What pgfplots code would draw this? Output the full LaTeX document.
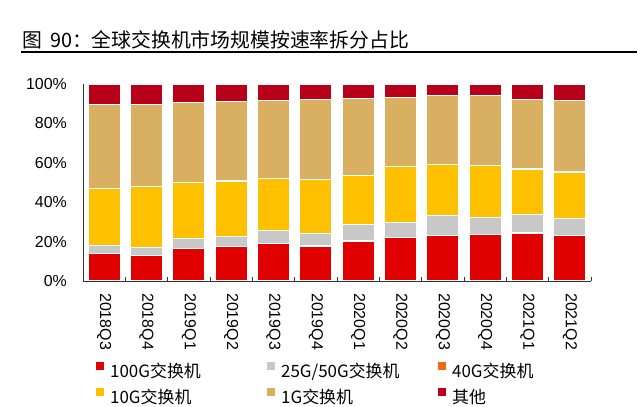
\documentclass[border=0pt]{standalone}
\usepackage{pgfplots}
\usepackage{pgfplotstable}
\pgfplotsset{compat=1.18}
\usepackage{fontspec}
\setmainfont{Liberation Sans}
\newfontfamily\cjk{Noto Sans CJK SC}
\definecolor{cA}{HTML}{E00000}
\definecolor{cB}{HTML}{C8C8C8}
\definecolor{cC}{HTML}{F06A14}
\definecolor{cD}{HTML}{FFC000}
\definecolor{cE}{HTML}{D9AF62}
\definecolor{cF}{HTML}{B8001A}
\definecolor{axc}{HTML}{333333}
\pgfplotstableread{
x a b c d e f
0 14.1 4.0 0 29.0 42.6 10.3
1 12.9 4.2 0 30.7 41.9 10.3
2 16.6 4.8 0 28.8 40.5 9.3
3 17.6 5.1 0 28.1 40.4 8.8
4 19.2 6.4 0 26.6 39.3 8.5
5 17.8 6.4 0 27.5 40.3 8.0
6 20.3 8.2 0 24.9 39.1 7.5
7 21.9 7.9 0 28.2 35.2 6.8
8 22.9 10.2 0 25.9 35.1 5.9
9 23.6 8.8 0 26.1 35.7 5.8
10 24.4 9.2 0 23.3 35.1 8.0
11 22.9 8.8 0 23.6 36.2 8.5
}\data
\begin{document}
\begin{tikzpicture}
\useasboundingbox (0,0) rectangle (640bp,407bp);
\node[anchor=base west, inner sep=0pt, font=\cjk\fontsize{19.9}{22}\selectfont] at (22bp,359.5bp) {图\hspace{8bp}90：全球交换机市场规模按速率拆分占比};
\draw[line width=2bp] (21bp,354.5bp) -- (637bp,354.5bp);
\begin{axis}[
  at={(83bp,126bp)}, anchor=south west,
  scale only axis, width=508bp, height=197bp,
  ybar stacked, bar width=32bp,
  xmin=-0.5, xmax=11.5, ymin=0, ymax=100,
  axis x line*=bottom, axis y line*=left,
  axis line style={axc, line width=0.9bp, -},
  xtick={0,...,11},
  xticklabels={2018Q3,2018Q4,2019Q1,2019Q2,2019Q3,2019Q4,2020Q1,2020Q2,2020Q3,2020Q4,2021Q1,2021Q2},
  minor xtick={-0.5,0.5,...,11.5},
  major x tick style={draw=none},
  minor x tick style={axc, line width=0.9bp},
  minor tick length=4bp,
  tick align=inside,
  ytick={0,20,...,100},
  major y tick style={draw=none},
  yticklabel={\pgfmathprintnumber{\tick}\%},
  /pgf/number format/assume math mode=true,
  tick label style={font=\fontsize{16}{18}\selectfont, inner sep=0pt},
  xticklabel style={rotate=-90, anchor=west},
  xticklabel shift=12bp,
  yticklabel style={anchor=east},
  yticklabel shift=16bp,
  every axis plot/.append style={draw=white, line width=1.2bp},
  legend columns=3,
  legend image code/.code={\fill[#1, draw=none] (0bp,3.5bp) rectangle (7.5bp,11bp);},
  legend style={at={(axis description cs:0,0)}, anchor=north west, xshift=13bp, yshift=-81bp,
    draw=none, inner sep=0pt, row sep=5bp,
    font=\cjk\fontsize{17}{20}\selectfont,
    nodes={inner sep=2bp, text height=12bp, text depth=4bp},
    /tikz/every odd column/.append style={column sep=4.5bp},
    /tikz/every even column/.append style={column sep=5bp}},
]
\addplot[fill=cA] table[x=x,y=a]{\data};
\addlegendentry{\makebox[150bp][l]{100G交换机}}
\addplot[fill=cB] table[x=x,y=b]{\data};
\addlegendentry{\makebox[150bp][l]{25G/50G交换机}}
\addplot[fill=cC] table[x=x,y=c]{\data};
\addlegendentry{\makebox[150bp][l]{40G交换机}}
\addplot[fill=cD] table[x=x,y=d]{\data};
\addlegendentry{\makebox[150bp][l]{10G交换机}}
\addplot[fill=cE] table[x=x,y=e]{\data};
\addlegendentry{\makebox[150bp][l]{1G交换机}}
\addplot[fill=cF] table[x=x,y=f]{\data};
\addlegendentry{\makebox[150bp][l]{其他}}
\end{axis}
\end{tikzpicture}
\end{document}
